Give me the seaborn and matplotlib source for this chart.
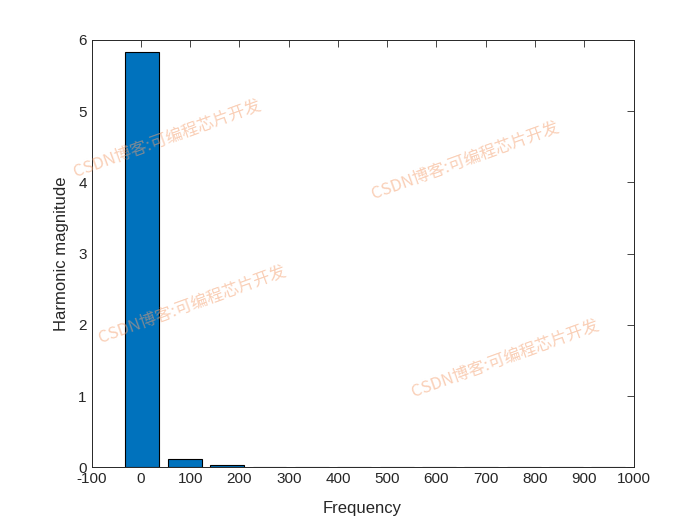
import matplotlib
matplotlib.use("Agg")
import matplotlib.pyplot as plt
import seaborn as sns
import pandas as pd

# harmonic spectrum
freqs = [3, 89, 175, 261, 347, 433, 519, 605, 691, 777, 863, 949]
magnitudes = [5.83, 0.12, 0.03, 0.004, 0.003, 0.002, 0.002, 0.001, 0.001, 0.001, 0.001, 0.001]
x_ticks = list(range(-100, 1001, 100))
y_ticks = [0, 1, 2, 3, 4, 5, 6]
watermark = "CSDN博客:可编程芯片开发"

sns.set_style("white")
plt.rcParams["font.family"] = ["Liberation Sans", "DejaVu Sans"]
plt.rcParams["axes.unicode_minus"] = False

df = pd.DataFrame({"freq": freqs, "mag": magnitudes})

fig = plt.figure(figsize=(7, 5.25), dpi=100)
ax = fig.add_axes([0.131, 0.110, 0.774, 0.814])
sns.barplot(data=df, x="freq", y="mag", native_scale=True, width=0.8,
            color="#0072BD", saturation=1, edgecolor="black", linewidth=0.8, ax=ax)

ax.set_xlim(-100, 1000)
ax.set_ylim(0, 6)
ax.set_xticks(x_ticks)
ax.set_yticks(y_ticks)
ax.set_xlabel("Frequency", fontsize=12, color="#262626", labelpad=11)
ax.set_ylabel("Harmonic magnitude", fontsize=12, color="#262626", labelpad=7)
ax.tick_params(direction="in", length=5, width=0.6, top=True, right=True,
               labelsize=11, colors="#262626")
for s in ax.spines.values():
    s.set_visible(True)
    s.set_color("#262626")
    s.set_linewidth(0.7)

# CSDN watermarks
for wx, wy in [(0.239, 0.737), (0.664, 0.695), (0.274, 0.419), (0.721, 0.318)]:
    fig.text(wx, wy, watermark, rotation=20, ha="center", va="center",
             fontsize=12, color="#F4A070", alpha=0.5, zorder=10,
             family=["Noto Sans CJK SC", "DejaVu Sans"])

fig.savefig("out.png", dpi=100)
